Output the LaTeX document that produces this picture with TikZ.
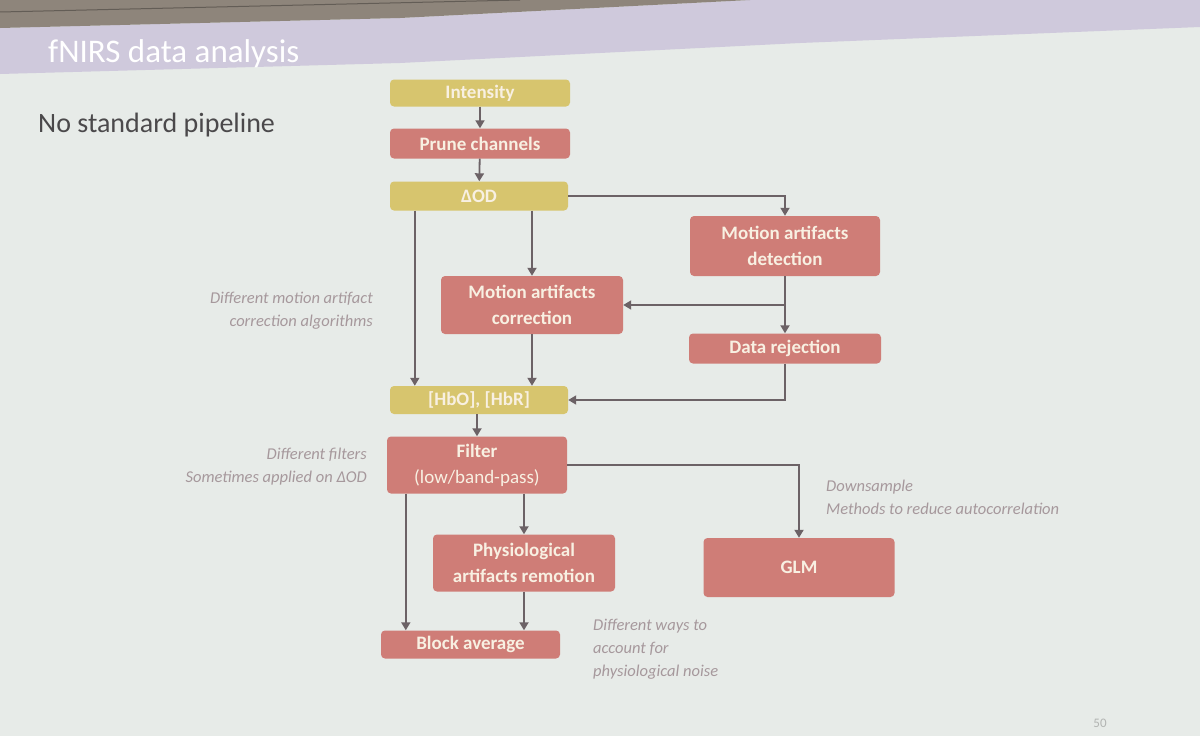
\documentclass[tikz,border=0pt]{standalone}
\usepackage{fontspec}
\setmainfont{Carlito}
\usetikzlibrary{arrows.meta,calc}
\definecolor{bg}{HTML}{E7EBE8}
\definecolor{lav}{HTML}{CFC9DC}
\definecolor{darkband}{HTML}{8E857B}
\definecolor{ynode}{HTML}{D7C56E}
\definecolor{rnode}{HTML}{CF7D77}
\definecolor{nodetext}{HTML}{F8F0E2}
\definecolor{arrc}{HTML}{6C6266}
\definecolor{notec}{HTML}{A6989C}
\definecolor{bodytext}{HTML}{4B494B}
\definecolor{pagenum}{HTML}{B2B4B2}
\tikzset{
  box/.style={rounded corners=4pt, text=nodetext, font=\bfseries\fontsize{19}{26}\selectfont, align=center, inner sep=0pt},
  ybox/.style={box, fill=ynode},
  rbox/.style={box, fill=rnode},
  arr/.style={draw=arrc, line width=1.8pt, -{Triangle[width=9pt,length=8pt]}},
  note/.style={text=notec, font=\itshape\fontsize{16.5}{23}\selectfont, inner sep=0pt}
}
\begin{document}
\begin{tikzpicture}[x=1pt,y=-1pt]
\useasboundingbox (0,0) rectangle (1200,736);
\fill[bg] (0,0) rectangle (1200,736);
\fill[lav] (0,28) -- (400,18) -- (750,0) -- (1200,0) -- (1200,27) -- (800,43) -- (400,63) -- (0,74) -- cycle;
\fill[darkband] (0,0) -- (750,0) -- (400,18) -- (0,28) -- cycle;
\draw[darkband!70!black, line width=1pt] (0,12) -- (520,0);

\node[anchor=base west, text=white, font=\fontsize{33}{36}\selectfont, inner sep=0pt] (title) at (48,62) {fNIRS data analysis};
\node[anchor=base west, text=bodytext, font=\fontsize{28}{32}\selectfont, inner sep=0pt] (sub) at (38,132) {No standard pipeline};

% nodes
\node[ybox, minimum width=180pt, minimum height=27pt] (int) at (480,93) {Intensity};
\node[rbox, minimum width=180pt, minimum height=30pt] (prune) at (480,143.5) {Prune channels};
\node[ybox, minimum width=178pt, minimum height=29pt] (dod) at (479,196) {ΔOD};
\node[rbox, minimum width=190pt, minimum height=60pt] (mad) at (785,246) {Motion artifacts\\detection};
\node[rbox, minimum width=182pt, minimum height=58pt] (mac) at (532,305) {Motion artifacts\\correction};
\node[rbox, minimum width=192pt, minimum height=30pt] (rej) at (785,348.5) {Data rejection};
\node[ybox, minimum width=178pt, minimum height=28pt] (hb) at (479,400) {[HbO], [HbR]};
\node[rbox, minimum width=180pt, minimum height=57pt] (filt) at (477,465) {Filter\\{\mdseries (low/band-pass)}};
\node[rbox, minimum width=182pt, minimum height=57pt] (phys) at (524,563) {Physiological\\artifacts remotion};
\node[rbox, minimum width=191pt, minimum height=59pt] (glm) at (799,567.5) {GLM};
\node[rbox, minimum width=179pt, minimum height=28pt] (blk) at (470.5,644.5) {Block average};

% connectors
\draw[arr] (int) -- (prune);
\draw[arr] (prune) -- (dod);
\draw[arr] (dod.east) -| (mad.north);
\draw[arr] ($(dod.south west)+(25,0)$) -- ($(hb.north west)+(25,0)$);
\draw[arr] (mac.north |- dod.south) -- (mac.north);
\draw[arr] (mad.south) -- (rej.north);
\draw[arr] (mad.south |- mac.east) -- (mac.east);
\draw[arr] (rej.south) |- (hb.east);
\draw[arr] (mac.south) -- (mac.south |- hb.north);
\draw[arr] (hb.south -| filt.north) -- (filt.north);
\draw[arr] (filt.east) -| (glm.north);
\draw[arr] ($(filt.south west)+(19,0)$) -- ($(blk.north west)+(25,0)$);
\draw[arr] (phys.north |- filt.south) -- (phys.north);
\draw[arr] (phys.south) -- (phys.south |- blk.north);

% notes
\node[note, align=right, anchor=east] (n1) at (373,311) {Different motion artifact\\correction algorithms};
\node[note, align=right, anchor=east] (n2) at (367,467) {Different filters\\Sometimes applied on ΔOD};
\node[note, align=left, anchor=west] (n3) at (826,497) {Downsample\\Methods to reduce autocorrelation};
\node[note, align=left, anchor=west] (n4) at (593,649) {Different ways to\\account for\\physiological noise};
\node[text=pagenum, font=\fontsize{13}{15}\selectfont, inner sep=0pt] (pg) at (1100,723) {50};
\end{tikzpicture}
\end{document}
